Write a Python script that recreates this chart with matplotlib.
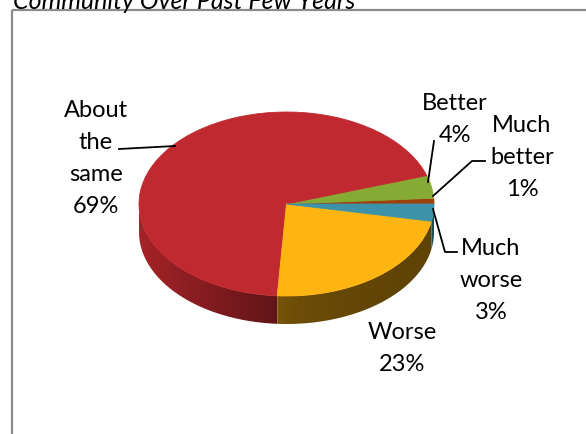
import numpy as np
import matplotlib.pyplot as plt
from matplotlib.colors import to_rgb
from matplotlib.patches import Rectangle, Polygon

plt.rcParams['font.family'] = ['Lato', 'DejaVu Sans']

# slices, counter-clockwise from 3 o'clock
categories = ['Much better', 'Better', 'About the same', 'Worse', 'Much worse']
values = [1, 4, 69, 23, 3]
title = 'Community Over Past Few Years'

colors = ['#9C400C', '#86AB35', '#C0292F', '#FFB511', '#3B92A9']
# side wall shading: (light, dark, falloff)
shade = [(0.6, 0.45, 1.0), (0.6, 0.45, 1.0), (0.86, 0.5, 1.0), (0.5, 0.37, 0.3), (0.62, 0.45, 1.0)]

W, H = 586, 435
fig = plt.figure(figsize=(W / 100, H / 100), dpi=100)

# pie ellipse in pixels
cx, cy, rx, ry, depth = 286.5, 205, 147.5, 92, 28
d = depth / ry

ax = fig.add_axes([(cx - rx) / W, (H - (cy + ry + depth)) / H, 2 * rx / W, (2 * ry + depth) / H])
wedges, _ = ax.pie(values, colors=colors, startangle=0, counterclock=True, radius=1,
                   wedgeprops=dict(linewidth=0.6))
for w in wedges:
    w.set_edgecolor(w.get_facecolor())
    w.set_zorder(3)

# side wall of the lower half, one shaded strip per slice
edges = 360 * np.cumsum([0] + values) / sum(values)
for i in range(len(values)):
    a0, a1 = max(edges[i], 180), min(edges[i + 1], 360)
    if a1 <= a0:
        continue
    th = np.radians(np.linspace(a0, a1, 200))
    top = np.column_stack([np.cos(th), np.sin(th)])
    bot = top[::-1] - [0, d]
    side = Polygon(np.vstack([top, bot]), closed=True, fc='none', ec='none')
    ax.add_patch(side)
    x0, x1 = np.cos(th[0]), np.cos(th[-1])
    hi, lo, p = shade[i]
    t = np.linspace(0, 1, 256)
    f = hi - (hi - lo) * t ** p
    grad = np.clip(np.outer(f, to_rgb(colors[i])), 0, 1)[None, :, :]
    im = ax.imshow(grad, extent=(x0, x1, -1 - d, 0.1), interpolation='bilinear', zorder=1)
    im.set_clip_path(side)

ax.set_xlim(-1, 1)
ax.set_ylim(-1 - d, 1)
ax.set_aspect('auto')
ax.axis('off')

# overlay in pixel coordinates for frame, title and labels
ov = fig.add_axes([0, 0, 1, 1])
ov.set_xlim(0, W)
ov.set_ylim(H, 0)
ov.axis('off')
ov.patch.set_alpha(0)

ov.add_patch(Rectangle((12, 11), 800, 600, fill=False, ec='#8c8c8c', lw=1.6))
ov.text(13, 9, title, fontsize=18, style='italic', ha='left', va='baseline')

label_pos = [(522, 132), (455, 110), (96, 117), (402, 339), (491, 255)]
leaders = [[(485, 162), (472, 162), (433, 197)],
           [(434, 142), (428, 183)],
           [(119, 150), (175, 147)],
           None,
           [(457, 253), (445, 253), (433, 210)]]
pitch = 32
for name, v, (x, y), lead in zip(categories, values, label_pos, leaders):
    lines = name.split() + ['{}%'.format(v)]
    for k, s in enumerate(lines):
        ov.text(x, y + k * pitch, s, fontsize=17, ha='center', va='baseline')
    if lead:
        xs, ys = zip(*lead)
        ov.plot(xs, ys, color='black', lw=1.3)

fig.savefig('out.png', dpi=100)
